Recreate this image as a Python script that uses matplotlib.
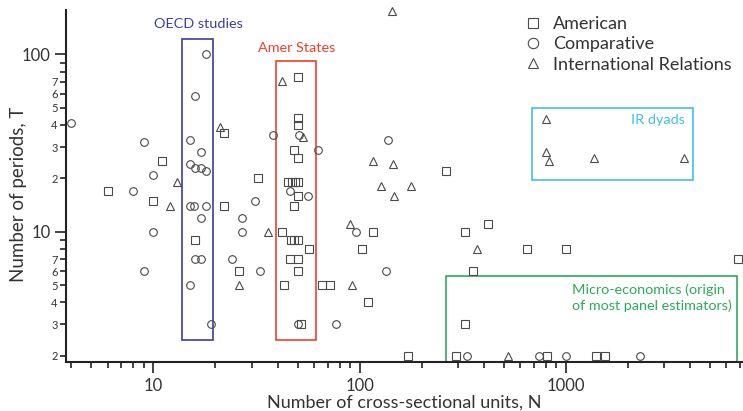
import numpy as np
import matplotlib
matplotlib.use("Agg")
import matplotlib.pyplot as plt
from matplotlib.ticker import FixedLocator, FixedFormatter, NullFormatter
from matplotlib.patches import Rectangle
from matplotlib.lines import Line2D

plt.rcParams['font.family'] = ['Lato', 'DejaVu Sans']

# American politics studies (N, T)
amer_n = [6, 10, 11, 16, 22, 22, 26, 32,
          50, 50, 50, 48, 50, 45, 47, 48.5, 50, 50, 48, 42, 46.5, 48, 50, 57, 46, 50, 50, 43, 52,
          66, 72, 103, 110, 116, 171, 262, 323, 418, 645, 1000, 6800, 354, 323, 293, 812, 1408, 1545]
amer_t = [17, 15, 25, 9, 36, 14, 6, 20,
          75, 44, 40, 29, 26, 19, 19, 19, 19, 16, 14, 10, 9, 9, 9, 8, 7, 7, 6, 5, 3,
          5, 5, 8, 4, 10, 2, 22, 10, 11, 8, 8, 7, 6, 3, 2, 2, 2, 2]

# comparative politics studies
comp_n = [4, 18, 16, 9, 15, 17, 15, 16, 17, 18, 10, 8, 31, 15, 15.8, 18, 17, 27, 10, 27, 24, 16, 17, 9, 33, 15, 19,
          38, 51, 63, 137, 46, 56, 96, 134, 50, 77, 330, 740, 1000, 2280]
comp_t = [41, 100, 58, 32, 33, 28, 24, 23, 23, 22, 21, 17, 15, 14, 14, 14, 12, 12, 10, 10, 7, 7, 7, 6, 6, 5, 3,
          35, 35, 29, 33, 17, 16, 10, 6, 3, 3, 2, 2, 2, 2]

# international relations studies
ir_n = [144, 21, 13, 12, 26, 42, 53, 116, 146, 127, 178, 147, 36, 90, 92, 373, 527, 800, 800, 830, 1370, 3730]
ir_t = [176, 39, 19, 14, 5, 71, 34, 25, 24, 18, 18, 16, 10, 11, 5, 8, 2, 43, 28, 25, 26, 26]

# highlighted groups: [N low, N high, T low, T high]
oecd_box = [13.8, 19.5, 2.45, 121.5]
states_box = [39.2, 61.6, 2.45, 91.7]
dyads_box = [687, 4130, 19.5, 50]
micro_box = [261, 6740, 1.85, 5.65]

x_lim = (3.77, 7150)
y_lim = (1.85, 178)

fig = plt.figure(figsize=(7.43, 4.11), dpi=100)
ax = fig.add_axes([66/743, 49.3/411, 676/743, 351.7/411])
ax.set_xscale('log')
ax.set_yscale('log')
ax.set_xlim(*x_lim)
ax.set_ylim(*y_lim)

mk = dict(linestyle='none', mfc='none', mec='#4a4a4a', mew=0.8, clip_on=False, zorder=3)
ax.plot(amer_n, amer_t, marker='s', ms=6, **mk)
ax.plot(comp_n, comp_t, marker='o', ms=5.5, **mk)
ax.plot(ir_n, ir_t, marker='^', ms=5.5, **mk)

def box(b, color):
    r = Rectangle((b[0], b[2]), b[1] - b[0], b[3] - b[2], fill=False,
                  edgecolor=color, lw=1.2, zorder=2, clip_on=False)
    ax.add_patch(r)

box(oecd_box, '#3d3d9e')
box(states_box, '#f0402a')
box(dyads_box, '#3ec0ea')
box(micro_box, '#2eaa5a')

ax.text(16.6, 148, 'OECD studies', color='#3d3d9e', fontsize=10.4, ha='center', va='center')
ax.text(49.3, 108.5, 'Amer States', color='#f0402a', fontsize=10.4, ha='center', va='center')
ax.text(3760, 42.6, 'IR dyads', color='#3ec0ea', fontsize=10.4, ha='right', va='center')
ax.text(1066, 4.25, 'Micro-economics (origin\nof most panel estimators)', color='#2eaa5a',
        fontsize=10.4, ha='left', va='center', linespacing=1.25)

# spines / ticks
for s in ['top', 'right']:
    ax.spines[s].set_visible(False)
for s in ['left', 'bottom']:
    ax.spines[s].set_linewidth(1.5)
    ax.spines[s].set_color('#222222')

ax.xaxis.set_major_locator(FixedLocator([10, 100, 1000]))
ax.xaxis.set_major_formatter(FixedFormatter(['10', '100', '1000']))
xminor = [4, 5, 6, 7, 8, 9, 20, 30, 40, 50, 60, 70, 80, 90,
          200, 300, 400, 500, 600, 700, 800, 900, 2000, 3000, 4000, 5000, 6000, 7000]
ax.xaxis.set_minor_locator(FixedLocator(xminor))
ax.xaxis.set_minor_formatter(NullFormatter())

ax.yaxis.set_major_locator(FixedLocator([10, 100]))
ax.yaxis.set_major_formatter(FixedFormatter(['10', '100']))
yminor = [2, 3, 4, 5, 6, 7, 8, 9, 20, 30, 40, 50, 60, 70, 80, 90]
yminor_lab = ['2', '3', '4', '5', '6', '7', '', '', '2', '3', '4', '5', '6', '7', '', '']
ax.yaxis.set_minor_locator(FixedLocator(yminor))
ax.yaxis.set_minor_formatter(FixedFormatter(yminor_lab))

ax.tick_params(axis='both', which='major', length=8, width=1.2, color='#222222',
               labelsize=12, labelcolor='#333333')
ax.tick_params(axis='x', which='major', pad=4)
ax.tick_params(axis='y', which='major', pad=3)
ax.tick_params(axis='both', which='minor', length=4.5, width=1.2, color='#222222')
ax.tick_params(axis='y', which='minor', labelsize=8, labelcolor='#333333', pad=1.5)

ax.set_xlabel('Number of cross-sectional units, N', fontsize=13, color='#333333')
ax.set_ylabel('Number of periods, T', fontsize=13.5, color='#333333')
ax.xaxis.set_label_coords(0.5, -0.094)
ax.yaxis.set_label_coords(-0.058, 0.477)

handles = [
    Line2D([], [], marker='s', ms=7.5, linestyle='none', mfc='none', mec='#4a4a4a', mew=0.8),
    Line2D([], [], marker='o', ms=7.5, linestyle='none', mfc='none', mec='#4a4a4a', mew=0.8),
    Line2D([], [], marker='^', ms=7.5, linestyle='none', mfc='none', mec='#4a4a4a', mew=0.8),
]
leg = ax.legend(handles, ['American', 'Comparative', 'International Relations'],
                frameon=False, fontsize=13, loc='upper left',
                bbox_to_anchor=(515/743, 1 - 7/411), bbox_transform=fig.transFigure,
                handlelength=1.0, handletextpad=0.6, labelspacing=0.24, borderpad=0)
for t in leg.get_texts():
    t.set_color('#333333')

fig.savefig('out.png', dpi=100)
